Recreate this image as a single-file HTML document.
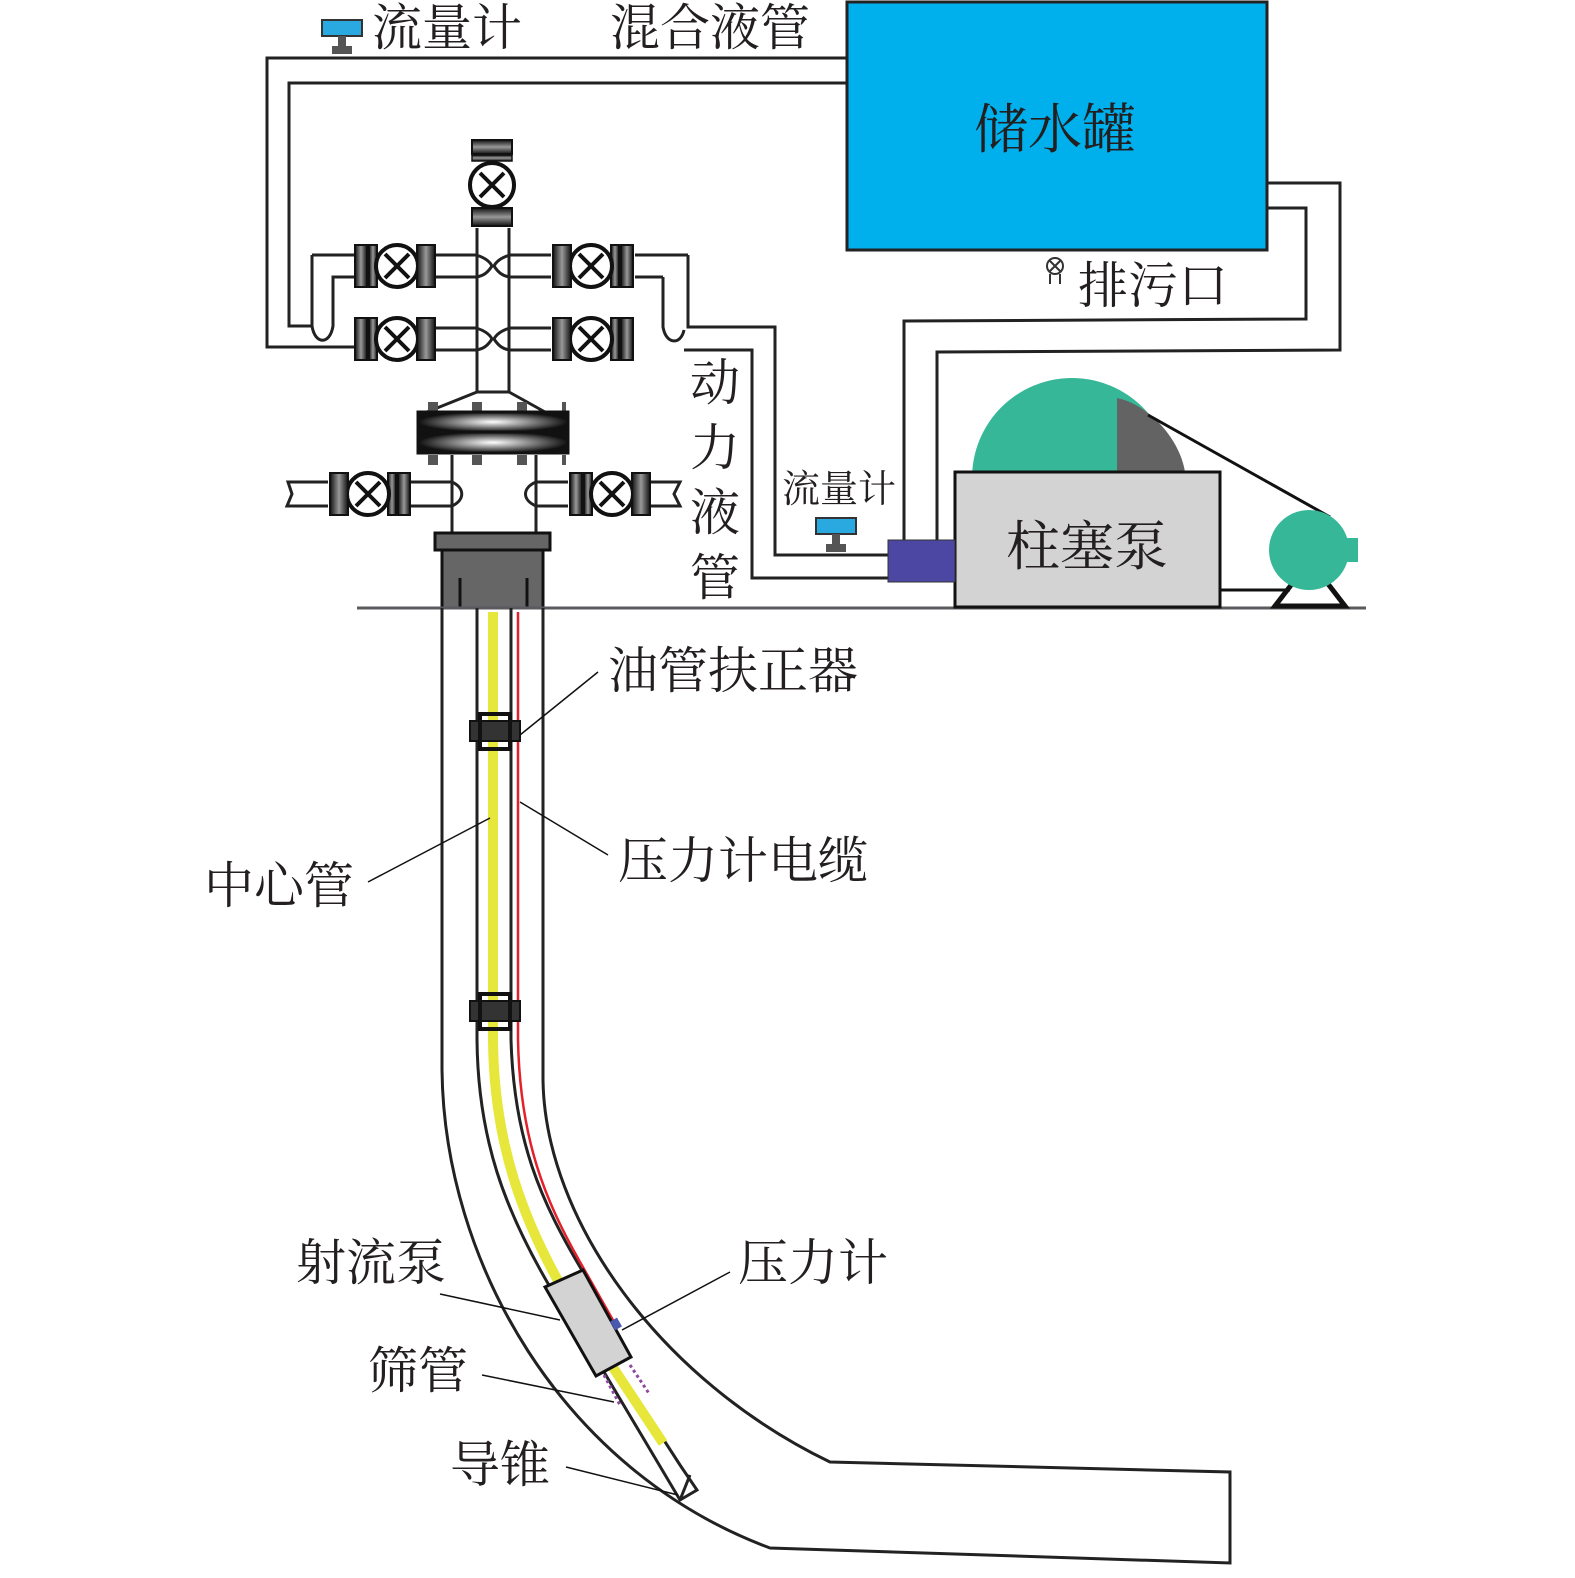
<!DOCTYPE html>
<html><head><meta charset="utf-8"><style>
html,body{margin:0;padding:0;background:#fff;overflow:hidden;width:1575px;height:1578px}
svg{display:block}
text{font-family:"Liberation Serif","Noto Serif CJK SC","Noto Sans CJK SC",serif;fill:#231f20}
</style></head><body>
<svg width="1575" height="1578" viewBox="0 0 1575 1578" xmlns="http://www.w3.org/2000/svg">
<defs>
<linearGradient id="fl" x1="0" x2="1" y1="0" y2="0">
<stop offset="0" stop-color="#111"/><stop offset="0.5" stop-color="#999"/><stop offset="1" stop-color="#111"/></linearGradient>
<linearGradient id="flv" x1="0" x2="0" y1="0" y2="1">
<stop offset="0" stop-color="#111"/><stop offset="0.5" stop-color="#999"/><stop offset="1" stop-color="#111"/></linearGradient>
<radialGradient id="fh" cx="0.5" cy="0.5" r="0.5"><stop offset="0" stop-color="#fff"/><stop offset="1" stop-color="#111"/></radialGradient>
<g id="valve">
<rect x="0" y="-21" width="12" height="42" fill="url(#fl)" stroke="#111" stroke-width="2"/>
<rect x="14" y="-21" width="8" height="42" fill="url(#fl)" stroke="#111" stroke-width="2"/>
<circle cx="42" cy="0" r="21" fill="#fff" stroke="#111" stroke-width="4"/>
<line x1="30" y1="-12" x2="54" y2="12" stroke="#111" stroke-width="4"/>
<line x1="30" y1="12" x2="54" y2="-12" stroke="#111" stroke-width="4"/>
<rect x="62" y="-21" width="18" height="42" fill="url(#fl)" stroke="#111" stroke-width="2"/>
</g>
<g id="fm">
<rect x="0" y="0" width="40" height="16" fill="#29a9e0" stroke="#333" stroke-width="2"/>
<rect x="16" y="16" width="8" height="10" fill="#555"/>
<rect x="10" y="26" width="20" height="8" fill="#555"/>
</g>
</defs>

<rect x="847" y="2" width="420" height="248" fill="#00b0ec" stroke="#222" stroke-width="3"/>
<text x="1055" y="148" font-size="54" text-anchor="middle">储水罐</text>

<g fill="none" stroke="#222" stroke-width="3">
<polyline points="847,58 267,58 267,347 355,347"/>
<polyline points="847,83 289,83 289,326 312,326"/>
<path d="M312,255 L312,326 C315,345 330,345 333,326 L333,277 L355,277"/>
<line x1="312" y1="255" x2="355" y2="255"/>
<path d="M688,255 L688,327 L775,327 L775,555 L888,555"/>
<path d="M663,277 L663,327 C666,345 681,345 684,330"/>
<polyline points="684,350 752,350 752,578 888,578"/>
<line x1="635" y1="255" x2="688" y2="255"/>
<line x1="635" y1="277" x2="663" y2="277"/>
<polyline points="1267,183 1340,183 1340,350 937,352 937,540"/>
<polyline points="1267,208 1306,208 1306,319 904,321 904,540"/>
<line x1="477" y1="228" x2="477" y2="392"/>
<line x1="509" y1="228" x2="509" y2="392"/>
<path d="M435,255 L476,255 C486,258 490,262 492,266 C488,272 484,276 476,277 L435,277"/>
<path d="M551,255 L510,255 C500,258 496,262 494,266 C498,272 502,276 510,277 L551,277"/>
<path d="M435,328 L476,328 C486,331 490,335 492,339 C488,345 484,349 476,350 L435,350"/>
<path d="M551,328 L510,328 C500,331 496,335 494,339 C498,345 502,349 510,350 L551,350"/>
<polyline points="477,392 427,412"/>
<polyline points="509,392 545,412"/>
<line x1="477" y1="392" x2="509" y2="392"/>
<line x1="452" y1="455" x2="452" y2="533"/>
<line x1="536" y1="455" x2="536" y2="533"/>
<path d="M410,482 L452,482 C465,488 465,500 452,506 L410,506"/>
<path d="M650,482 L680,482 L674,494 L680,506 L650,506"/>
<path d="M568,482 L536,482 C522,488 522,500 536,506 L568,506"/>
<path d="M328,482 L288,482 L292,494 L287,506 L328,506"/>
</g>
<!-- top valve -->
<rect x="472" y="140" width="40" height="14" fill="url(#flv)" stroke="#111" stroke-width="2"/>
<rect x="472" y="155" width="40" height="6" fill="url(#flv)" stroke="#111" stroke-width="1.5"/>
<circle cx="492" cy="185" r="22" fill="#fff" stroke="#111" stroke-width="4"/>
<line x1="480" y1="173" x2="504" y2="197" stroke="#111" stroke-width="4"/>
<line x1="480" y1="197" x2="504" y2="173" stroke="#111" stroke-width="4"/>
<rect x="472" y="208" width="40" height="18" fill="url(#flv)" stroke="#111" stroke-width="2"/>

<use href="#valve" x="355" y="266"/>
<use href="#valve" x="355" y="339"/>
<g transform="translate(633,266) scale(-1,1)"><use href="#valve"/></g>
<g transform="translate(633,339) scale(-1,1)"><use href="#valve"/></g>
<g transform="translate(410,494) scale(-1,1)"><use href="#valve"/></g>
<use href="#valve" x="570" y="494"/>
<g fill="#555"><rect x="428" y="402" width="10" height="10"/><rect x="472" y="402" width="10" height="10"/><rect x="517" y="402" width="10" height="10"/><rect x="562" y="402" width="4" height="10"/>
<rect x="428" y="455" width="10" height="10"/><rect x="472" y="455" width="10" height="10"/><rect x="517" y="455" width="10" height="10"/><rect x="562" y="455" width="4" height="10"/></g>
<rect x="418" y="412" width="150" height="20" fill="url(#fh)" stroke="#111" stroke-width="3"/>
<rect x="418" y="432" width="150" height="21" fill="url(#fh)" stroke="#111" stroke-width="3"/>
<rect x="435" y="533" width="115" height="17" fill="#666" stroke="#111" stroke-width="3"/>
<rect x="442" y="550" width="101" height="58" fill="#666" stroke="#111" stroke-width="3"/>
<line x1="460" y1="578" x2="460" y2="608" stroke="#111" stroke-width="3"/>
<line x1="527" y1="578" x2="527" y2="608" stroke="#111" stroke-width="3"/>
<line x1="357" y1="608" x2="1366" y2="608" stroke="#5a5a5f" stroke-width="3"/>

<g fill="none" stroke="#222" stroke-width="3">
<path d="M442,608 L442,1070 C444,1260 560,1470 770,1548 L1230,1563 L1230,1472 L830,1462 C660,1380 545,1220 543,1080 L543,608"/>
<path d="M477,608 L477,1040 C478,1140 505,1210 550,1287"/>
<path d="M511,608 L511,1040 C514,1140 540,1200 583,1272"/>
<path d="M604,1372 L680,1500 L697,1490 L680,1465 L627,1383"/>
<line x1="680" y1="1500" x2="690" y2="1475"/>
</g>
<path d="M493,612 L493,1040 C494,1140 520,1220 575,1310 L663,1443" fill="none" stroke="#e6e73a" stroke-width="10"/>
<path d="M518,612 L518,1040 C520,1140 545,1200 580,1262 L614,1322" fill="none" stroke="#e4202a" stroke-width="2.5"/>
<g stroke="#8e4aa0" stroke-width="3" stroke-dasharray="3,3"><line x1="604" y1="1375" x2="620" y2="1405"/><line x1="630" y1="1365" x2="650" y2="1395"/></g>
<polygon points="545,1287 583,1270 631,1357 596,1376" fill="#d3d3d3" stroke="#111" stroke-width="3"/>
<rect x="612" y="1319" width="8" height="10" fill="#4a58b0" transform="rotate(-30 616 1324)"/>
<g fill="#222" stroke="#111" stroke-width="2">
<rect x="470" y="721" width="50" height="20" fill="#333"/><rect x="480" y="714" width="30" height="35" fill="none" stroke-width="4"/>
<rect x="470" y="1001" width="50" height="20" fill="#333"/><rect x="480" y="994" width="30" height="35" fill="none" stroke-width="4"/>
</g>

<clipPath id="cp"><rect x="900" y="300" width="400" height="172"/></clipPath>
<g clip-path="url(#cp)">
<circle cx="1072" cy="478" r="100" fill="#36b898"/>
<path d="M1117,398 C1150,405 1180,440 1185,472 L1117,472 Z" fill="#636363"/>
</g>
<line x1="1148" y1="415" x2="1330" y2="517" stroke="#111" stroke-width="3"/>
<rect x="955" y="472" width="265" height="135" fill="#d3d3d3" stroke="#111" stroke-width="3"/>
<text x="1087" y="565" font-size="54" text-anchor="middle">柱塞泵</text>
<rect x="888" y="540" width="67" height="42" fill="#4b47a3" stroke="#333" stroke-width="1"/>
<line x1="1220" y1="590" x2="1290" y2="590" stroke="#111" stroke-width="3"/>
<polygon points="1275,606 1345,606 1325,580 1295,580" fill="none" stroke="#111" stroke-width="5"/>
<circle cx="1309" cy="550" r="40" fill="#36b898"/>
<rect x="1345" y="538" width="13" height="24" fill="#36b898"/>

<use href="#fm" x="322" y="20"/>
<use href="#fm" x="816" y="518"/>
<g stroke="#333" stroke-width="2" fill="none"><circle cx="1055" cy="266" r="8"/><line x1="1049" y1="260" x2="1061" y2="272"/><line x1="1049" y1="272" x2="1061" y2="260"/><line x1="1050" y1="274" x2="1050" y2="284"/><line x1="1060" y1="274" x2="1060" y2="284"/></g>

<g font-size="50">
<text x="372" y="45">流量计</text>
<text x="610" y="45">混合液管</text>
<text x="1078" y="303">排污口</text>
<text x="690" y="400">动</text><text x="690" y="465">力</text><text x="690" y="530">液</text><text x="690" y="595">管</text>
<text x="608" y="688">油管扶正器</text>
<text x="618" y="878">压力计电缆</text>
<text x="204" y="903">中心管</text>
<text x="296" y="1280">射流泵</text>
<text x="738" y="1280">压力计</text>
<text x="368" y="1388">筛管</text>
<text x="450" y="1482">导锥</text>
</g>
<text x="782" y="502" font-size="38">流量计</text>
<g stroke="#111" stroke-width="1.5">
<line x1="598" y1="672" x2="520" y2="735"/>
<line x1="608" y1="855" x2="520" y2="802"/>
<line x1="368" y1="882" x2="490" y2="818"/>
<line x1="440" y1="1294" x2="560" y2="1320"/>
<line x1="730" y1="1272" x2="622" y2="1330"/>
<line x1="482" y1="1375" x2="614" y2="1402"/>
<line x1="566" y1="1467" x2="678" y2="1495"/>
</g>
</svg>
</body></html>
